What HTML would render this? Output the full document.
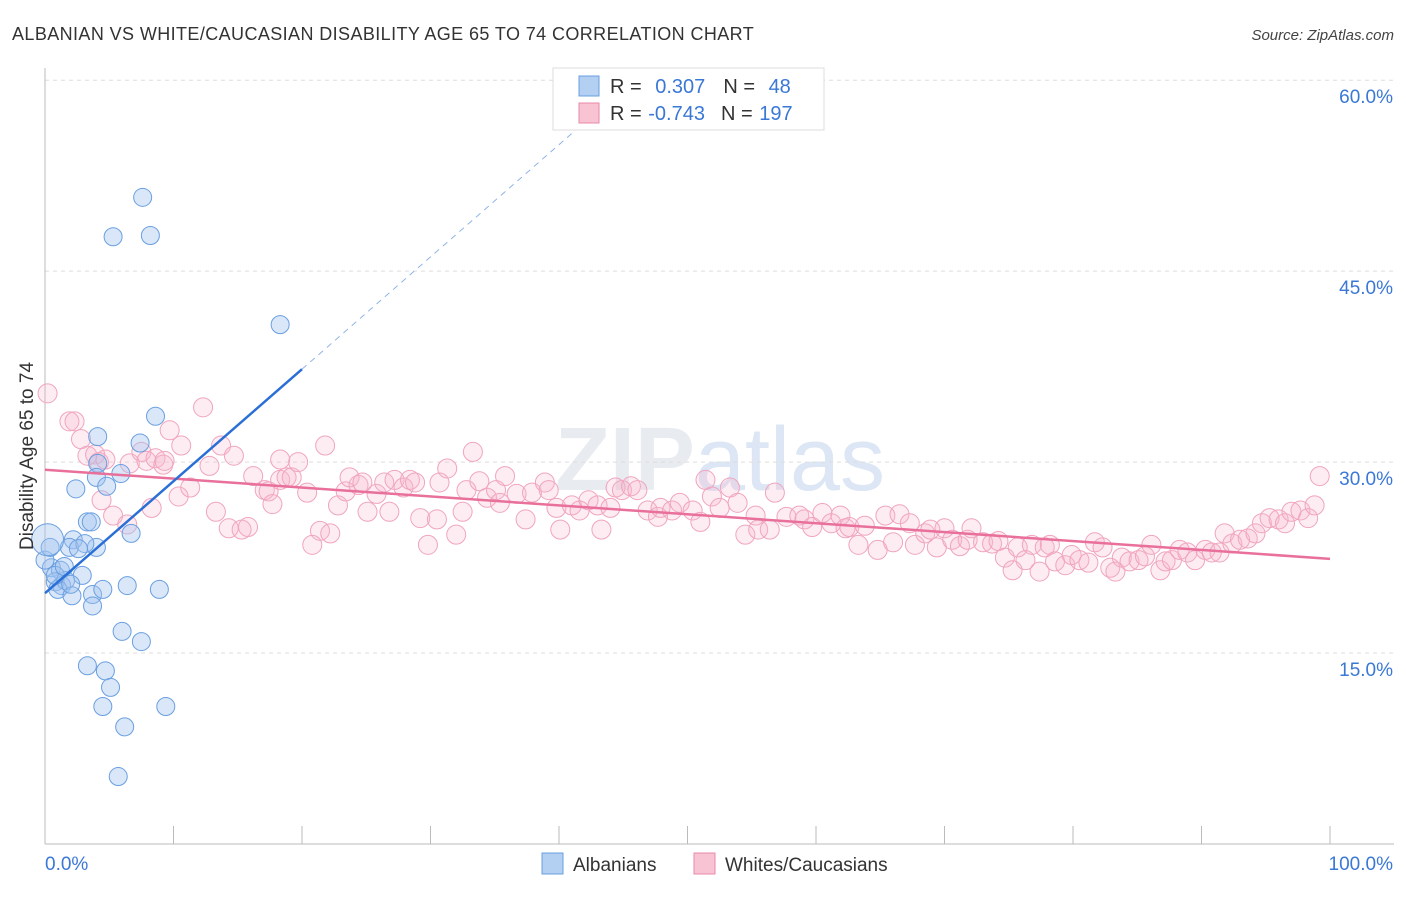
<!DOCTYPE html>
<html><head><meta charset="utf-8"><style>
body{margin:0;background:#fff;font-family:"Liberation Sans",sans-serif;}
svg text{font-family:"Liberation Sans",sans-serif;}
</style></head><body>
<svg id="chart" width="1406" height="892" xmlns="http://www.w3.org/2000/svg">
<text x="12" y="40" font-size="18" fill="#333" letter-spacing="0.4">ALBANIAN VS WHITE/CAUCASIAN DISABILITY AGE 65 TO 74 CORRELATION CHART</text>
<text x="1394" y="40" font-size="15" fill="#444" text-anchor="end" font-style="italic">Source: ZipAtlas.com</text>
<text x="720" y="490" font-size="90" fill="#e8ebf0" text-anchor="middle" font-weight="bold">ZIP<tspan fill="#dce6f4" font-weight="normal">atlas</tspan></text>
<g id="grid"></g><g id="axes"></g><g id="pts"></g><g id="lines"></g>
<text transform="translate(33,456) rotate(-90)" font-size="19" fill="#333" text-anchor="middle">Disability Age 65 to 74</text>
<g>
<rect x="553" y="68" width="271" height="62" fill="#fff" stroke="#ddd"/>
<rect x="579" y="76" width="20" height="20" fill="#b3cff2" stroke="#6a9fe0"/>
<rect x="579" y="103" width="20" height="20" fill="#f8c4d4" stroke="#e88aa8"/>
<text x="610" y="93" font-size="20" fill="#333">R = <tspan fill="#3a78d6" dx="8">0.307</tspan><tspan dx="18">N = </tspan><tspan fill="#3a78d6" dx="8">48</tspan></text>
<text x="610" y="120" font-size="20" fill="#333">R = <tspan fill="#3a78d6" dx="1">-0.743</tspan><tspan dx="16">N = </tspan><tspan fill="#3a78d6" dx="1">197</tspan></text>
</g>
<g>
<rect x="542" y="853" width="21" height="21" fill="#b3cff2" stroke="#6a9fe0"/>
<text x="573" y="871" font-size="19" fill="#333">Albanians</text>
<rect x="694" y="853" width="21" height="21" fill="#f8c4d4" stroke="#e88aa8"/>
<text x="725" y="871" font-size="19" fill="#333">Whites/Caucasians</text>
</g>
</svg>
<script>
const yTicks=[15,30,45,60];
const yTickLabels=["15.0%","30.0%","45.0%","60.0%"];
const xEndLabels=["0.0%","100.0%"];
const blueX=[7.6,5.3,8.2,18.3,8.6,4.1,7.4,4.1,4.0,5.9,2.4,4.8,3.3,3.6,6.7,2.2,1.9,4.0,3.1,2.6,0.5,1.2,2.9,0.8,1.3,1.6,1.0,2.1,3.7,4.5,6.4,8.9,3.7,6.0,7.5,3.3,4.7,5.1,4.5,9.4,6.2,5.7,0.8,0,0.4,1.5,2.0];
const blueY=[50.8,47.7,47.8,40.8,33.6,32.0,31.5,29.9,28.8,29.1,27.9,28.1,25.3,25.3,24.4,23.9,23.3,23.3,23.6,23.2,21.7,21.5,21.1,20.6,20.3,20.7,20.0,19.5,19.6,20.0,20.3,20.0,18.7,16.7,15.9,14.0,13.6,12.3,10.8,10.8,9.2,5.3,21.1,22.3,23.3,21.8,20.4];
const blueBigX=[0.2];const blueBigY=[23.9];
const pinkX=[0.2,1.9,2.3,2.8,3.3,3.9,4.2,4.7,4.4,5.3,6.4,6.6,7.5,7.9,8.6,9.2,9.3,9.7,10.6,10.4,8.3,11.3,12.3,12.8,13.7,14.7,13.3,14.3,15.3,15.8,16.2,17.1,17.4,17.7,18.3,18.8,19.2,19.7,20.4,18.3,21.8,21.4,20.8,22.2,22.8,23.4,23.7,24.4,24.7,25.1,25.8,26.4,27.2,26.8,27.9,28.4,28.8,29.2,29.8,30.5,30.7,31.3,32.0,32.5,32.8,33.3,33.8,34.4,35.1,35.8,35.4,36.7,37.4,37.9,38.9,39.2,39.8,40.1,41.0,41.6,42.3,43.3,43.0,44.0,44.4,44.9,45.6,46.1,46.9,47.7,47.9,48.8,49.4,50.4,51.0,51.4,51.9,52.5,53.3,53.9,54.5,55.3,55.5,56.4,56.8,57.7,58.7,59.1,59.7,60.5,61.2,61.9,62.3,62.6,63.3,63.8,64.8,65.4,66.0,66.5,67.3,67.7,68.5,68.9,69.4,70.0,70.6,71.2,71.8,72.1,73.0,73.7,74.2,74.7,75.3,75.7,76.3,76.8,77.4,77.8,78.2,78.6,79.4,79.9,80.5,81.2,81.7,82.3,82.9,83.3,83.8,84.4,85.1,85.6,86.1,86.8,87.2,87.7,88.3,88.9,89.5,90.3,90.8,91.4,91.8,92.4,93.0,93.6,94.2,94.7,95.3,96.0,96.5,97.0,97.7,98.3,98.8,99.2];
const pinkY=[35.4,33.2,33.2,31.8,30.5,30.6,30.0,30.2,27.0,25.8,25.1,29.9,30.8,30.1,30.3,29.8,30.1,32.5,31.3,27.3,26.4,28.0,34.3,29.7,31.3,30.5,26.1,24.8,24.7,24.9,28.9,27.8,27.7,26.7,28.6,28.8,28.8,30.0,27.6,30.2,31.3,24.6,23.5,24.4,26.6,27.7,28.8,28.2,28.4,26.1,27.5,28.4,28.6,26.1,28.0,28.6,28.4,25.6,23.5,25.5,28.4,29.5,24.3,26.1,27.8,30.8,28.5,27.2,27.8,28.9,26.8,27.5,25.5,27.6,28.4,27.8,26.4,24.7,26.6,26.2,27.0,24.7,26.6,26.4,28.0,27.8,28.1,27.8,26.2,25.7,26.4,26.2,26.8,26.2,25.3,28.6,27.3,26.4,28.0,26.8,24.3,25.8,24.7,24.7,27.6,25.7,25.8,25.5,24.9,26.0,25.2,25.8,24.8,24.9,23.5,25.0,23.1,25.8,23.7,25.9,25.2,23.5,24.4,24.7,23.3,24.8,23.9,23.4,23.9,24.8,23.7,23.6,23.8,22.5,21.5,23.3,22.3,23.5,21.4,23.3,23.5,22.2,21.9,22.7,22.3,22.1,23.7,23.3,21.7,21.4,22.5,22.2,22.3,22.6,23.5,21.5,22.2,22.3,23.1,22.9,22.3,23.1,22.9,22.9,24.4,23.6,23.9,24.0,24.4,25.2,25.6,25.5,25.2,26.1,26.2,25.6,26.6,28.9];
const blueLineX=[0,20];const blueLineY=[19.7,37.3];
const blueDashX=[20,42];const blueDashY=[37.3,56.7];
const pinkLineX=[0,100];const pinkLineY=[29.4,22.4];

const NS="http://www.w3.org/2000/svg";
const sx=v=>45+v*12.85, sy=v=>844-v*12.73;
function mk(tag,attrs,parent){const e=document.createElementNS(NS,tag);for(const k in attrs)e.setAttribute(k,attrs[k]);document.getElementById(parent).appendChild(e);return e;}
yTicks.forEach((t,i)=>{
 const g=mk('line',{x1:45,x2:1394,y1:sy(t),y2:sy(t),stroke:'#ddd','stroke-dasharray':'4,4'},'grid');
 
 
 const l=mk('text',{x:1393,y:sy(t)+23,'font-size':19,fill:'#3a78d6','text-anchor':'end'},'axes');
 l.textContent=yTickLabels[i];
 
 
});
const ax=mk('line',{x1:45,x2:45,y1:68,y2:844,stroke:'#bbb'},'axes');


const bx=mk('line',{x1:45,x2:1394,y1:844,y2:844,stroke:'#bbb'},'axes');


for(let i=0;i<=10;i++){const t=mk('line',{x1:sx(i*10),x2:sx(i*10),y1:826,y2:844,stroke:'#bbb'},'axes');
 
 }
[[0,'start'],[100,'end']].forEach((d,i)=>{const t=mk('text',{x:sx(d[0])+(i?63:0),y:870,'font-size':19,fill:'#3a78d6','text-anchor':d[1]},'axes');t.textContent=xEndLabels[i];
 
 });
pinkX.forEach((x,i)=>{const c=mk('circle',{cx:sx(x),cy:sy(pinkY[i]),r:9.5,fill:'rgba(246,180,202,0.25)',stroke:'#f0a5be','stroke-width':1},'pts');
 
 });
blueX.forEach((x,i)=>{const c=mk('circle',{cx:sx(x),cy:sy(blueY[i]),r:9,fill:'rgba(160,196,240,0.4)',stroke:'#6a9fe0','stroke-width':1},'pts');
 
 });
blueBigX.forEach((x,i)=>{const c=mk('circle',{cx:sx(x),cy:sy(blueBigY[i]),r:16,fill:'rgba(160,196,240,0.4)',stroke:'#6a9fe0','stroke-width':1},'pts');
 
 });
const l1=mk('line',{x1:sx(pinkLineX[0]),y1:sy(pinkLineY[0]),x2:sx(pinkLineX[1]),y2:sy(pinkLineY[1]),stroke:'#e8709a','stroke-width':2.5},'lines');


const l2=mk('line',{x1:sx(blueLineX[0]),y1:sy(blueLineY[0]),x2:sx(blueLineX[1]),y2:sy(blueLineY[1]),stroke:'#2a6fd6','stroke-width':2.5},'lines');


const l3=mk('line',{x1:sx(blueDashX[0]),y1:sy(blueDashY[0]),x2:sx(blueDashX[1]),y2:sy(blueDashY[1]),stroke:'#8fb4e8','stroke-width':1,'stroke-dasharray':'6,5'},'lines');


</script>
</body></html>
